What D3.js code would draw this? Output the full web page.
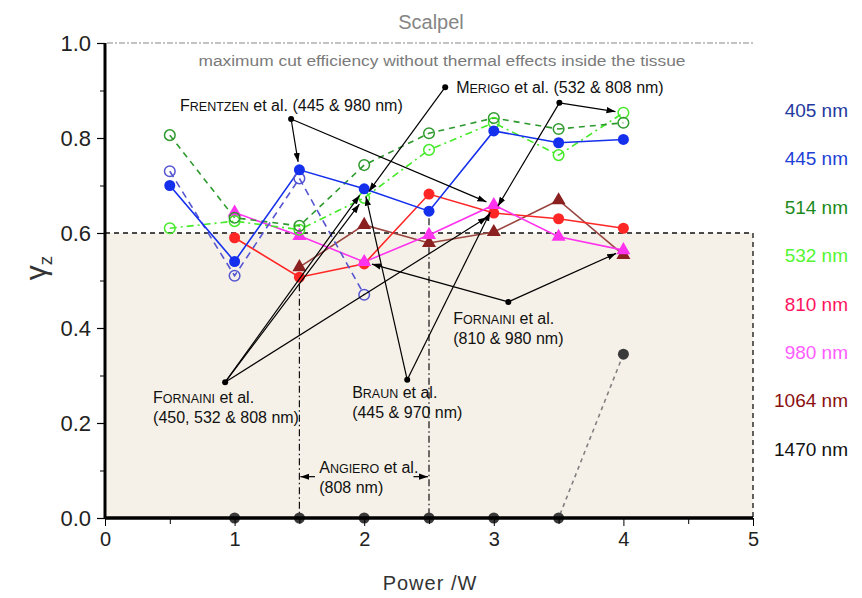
<!DOCTYPE html>
<html><head><meta charset="utf-8">
<script src="https://cdn.jsdelivr.net/npm/d3@7"></script>
<style>body{margin:0;background:#fff}svg{font-family:Arial,"Liberation Sans",sans-serif}</style>
</head><body><svg id="c" width="862" height="598"></svg>
<script>
// ---- data ----
const powers = [0.5, 1, 1.5, 2, 2.5, 3, 3.5, 4];
const s405  = [0.73, 0.51, 0.715, 0.47, null, null, null, null];
const s445  = [0.70, 0.54, 0.733, 0.693, 0.646, 0.815, 0.79, 0.797];
const s514  = [0.806, 0.632, 0.615, 0.743, 0.81, 0.842, 0.819, 0.832];
const s532  = [0.61, 0.625, 0.607, 0.674, 0.775, 0.832, 0.764, 0.853];
const s810  = [null, 0.59, 0.507, 0.535, 0.682, 0.642, 0.63, 0.61];
const s980  = [null, 0.643, 0.594, 0.539, 0.596, 0.659, 0.592, 0.564];
const s1064 = [null, null, 0.528, 0.617, 0.579, 0.602, 0.669, 0.554];
const s1470 = [null, 0, 0, 0, 0, 0, 0, 0.345];
const legendLabels = ["405 nm","445 nm","514 nm","532 nm","810 nm","980 nm","1064 nm","1470 nm"];
const yTicks = [0, 0.2, 0.4, 0.6, 0.8, 1.0];
const xTicks = [0, 1, 2, 3, 4, 5];
const threshold = 0.6;

// ---- layout ----
const svg = d3.select("#c");
const x = d3.scaleLinear().domain([0,5]).range([105,753]);
const y = d3.scaleLinear().domain([0,1]).range([518,43]);

const styles = {
  "405 nm": {color:"#5656d2", legend:"#24399e", marker:"open", dash:"7,5"},
  "445 nm": {color:"#1530ec", legend:"#1d3fd6", marker:"filled", dash:null},
  "514 nm": {color:"#2e9a2e", legend:"#1c8a1c", marker:"open", dash:"6,5"},
  "532 nm": {color:"#46ea2a", legend:"#55f533", marker:"open", dash:"7,4,2,4"},
  "810 nm": {color:"#ff2626", legend:"#ff1460", marker:"filled", dash:null},
  "980 nm": {color:"#ff33ee", legend:"#ff5cff", marker:"tri", dash:null},
  "1064 nm":{color:"#9a4540", legend:"#8a1010", marker:"tri", dash:null, mcolor:"#8a2020"},
  "1470 nm":{color:"#808080", legend:"#111", marker:"filled", dash:"4,4", mcolor:"#3a3a3a"}
};
const allSeries = [s405,s445,s514,s532,s810,s980,s1064,s1470];

// background threshold region
svg.append("rect").attr("x",x(0)).attr("y",y(threshold)).attr("width",x(5)-x(0)).attr("height",y(0)-y(threshold)).attr("fill","#f6f1e8");
svg.append("path").attr("d",`M${x(0)},${y(threshold)}H${x(5)}V${y(0)}`).attr("fill","none").attr("stroke","#111").attr("stroke-width",1.3).attr("stroke-dasharray","5,4");
// scalpel line
svg.append("line").attr("x1",x(0)+2).attr("x2",x(5)).attr("y1",y(1)).attr("y2",y(1)).attr("stroke","#888").attr("stroke-width",1.2).attr("stroke-dasharray","6,2,2,2");
svg.append("text").attr("x",431).attr("y",29).attr("text-anchor","middle").attr("font-size",20).attr("fill","#858585").text("Scalpel");
svg.append("text").attr("x",442).attr("y",66).attr("text-anchor","middle").attr("font-size",14).attr("fill","#7a7a7a").attr("textLength",487).attr("lengthAdjust","spacingAndGlyphs").text("maximum cut efficiency without thermal effects inside the tissue");

// Angiero vertical dash-dot lines
[[1.5, s810[2]],[2.5, s445[4]]].forEach(([p,v])=>{
  svg.append("line").attr("x1",x(p)).attr("x2",x(p)).attr("y1",y(v)+7).attr("y2",y(0)).attr("stroke","#111").attr("stroke-width",1.2).attr("stroke-dasharray","7,3,1.5,3");
});

// ---- series ----
const drawOrder = [7,6,4,5,3,2,0,1];
const line = d3.line().defined(d=>d.v!=null).x(d=>x(d.p)).y(d=>y(d.v));
drawOrder.forEach(i=>{
  const st = styles[legendLabels[i]];
  const pts = powers.map((p,j)=>({p, v:allSeries[i][j]}));
  svg.append("path").datum(pts).attr("d",line).attr("fill","none").attr("stroke",st.color).attr("stroke-width",1.6)
    .attr("stroke-dasharray",st.dash);
});
drawOrder.forEach(i=>{
  const st = styles[legendLabels[i]];
  const pts = powers.map((p,j)=>({p, v:allSeries[i][j]})).filter(d=>d.v!=null);
  const mc = st.mcolor || st.color;
  const g = svg.append("g");
  if (st.marker==="filled") {
    g.selectAll("circle").data(pts).join("circle").attr("cx",d=>x(d.p)).attr("cy",d=>y(d.v)).attr("r",5.5).attr("fill",mc);
  } else if (st.marker==="open") {
    g.selectAll("circle").data(pts).join("circle").attr("cx",d=>x(d.p)).attr("cy",d=>y(d.v)).attr("r",5.3).attr("fill","none").attr("stroke",mc).attr("stroke-width",1.5);
  } else {
    g.selectAll("path").data(pts).join("path").attr("d",d3.symbol(d3.symbolTriangle,85)).attr("transform",d=>`translate(${x(d.p)},${y(d.v)})`).attr("fill",mc);
  }
});

// axes (drawn over the marks)
const yAxis = d3.axisLeft(y).tickValues(yTicks).tickFormat(d3.format(".1f")).tickSize(8);
const gy = svg.append("g").attr("transform",`translate(${x(0)},0)`).call(yAxis);
gy.select(".domain").attr("stroke-width",3).attr("d",`M0,${y(1)}V${y(0)}`);
gy.selectAll(".tick line").attr("stroke-width",1.2);
gy.selectAll(".tick text").attr("font-size",22).attr("fill","#222").attr("x",-14).attr("font-family","Arial,'Liberation Sans',sans-serif");
svg.append("g").attr("transform",`translate(${x(0)},0)`).call(d3.axisLeft(y).tickValues([0.1,0.3,0.5,0.7,0.9]).tickSize(5).tickFormat(""))
  .call(g=>g.select(".domain").remove());

const xAxis = d3.axisBottom(x).tickValues(xTicks).tickFormat(d3.format("d")).tickSize(8);
const gx = svg.append("g").attr("transform",`translate(0,${y(0)})`).call(xAxis);
gx.select(".domain").attr("stroke-width",3.5).attr("d",`M${x(0)},0H${x(5)}`);
gx.selectAll(".tick text").attr("font-size",20).attr("fill","#222").attr("y",14).attr("font-family","Arial,'Liberation Sans',sans-serif");
svg.append("g").attr("transform",`translate(0,${y(0)})`).call(d3.axisBottom(x).tickValues([0.5,1.5,2.5,3.5,4.5]).tickSize(6).tickFormat(""))
  .call(g=>g.select(".domain").remove());

svg.append("text").attr("x",430).attr("y",590).attr("text-anchor","middle").attr("font-size",20).attr("fill","#333").attr("letter-spacing",1).text("Power /W");
const yl = svg.append("text").attr("transform","translate(46,268) rotate(-90)").attr("text-anchor","middle").attr("fill","#333");
yl.append("tspan").attr("font-size",30).text("γ");
yl.append("tspan").attr("font-size",19).attr("dy",6).text("z");

// ---- legend ----
legendLabels.forEach((l,i)=>{
  svg.append("text").attr("x",848).attr("y",117+i*48.4).attr("text-anchor","end").attr("font-size",19).attr("fill",styles[l].legend).text(l);
});

// ---- annotations ----
const defs = svg.append("defs");
defs.append("marker").attr("id","ah").attr("viewBox","0 0 10 10").attr("refX",10).attr("refY",5)
  .attr("markerWidth",9).attr("markerHeight",9).attr("markerUnits","userSpaceOnUse").attr("orient","auto")
  .append("path").attr("d","M0,1.5L10,5L0,8.5z").attr("fill","#000");
const ser = l=>allSeries[legendLabels.indexOf(l)];
const pt = (l,p)=>[p, ser(l)[powers.indexOf(p)]];
const notes = [
  {name:"Frentzen", rest:" et al. (445 & 980 nm)", line2:null, text:[0.579,0.857], dot:[1.436,0.84], targets:[pt("445 nm",1.5), pt("980 nm",3)]},
  {name:"Merigo", rest:" et al. (532 & 808 nm)", line2:null, text:[2.71,0.895], dot:[2.625,0.907], targets:[pt("532 nm",2)]},
  {name:null, dot:[3.506,0.874], targets:[pt("532 nm",4), pt("810 nm",3)]},
  {name:"Fornaini", rest:" et al.", line2:"(450, 532 & 808 nm)", text:[0.371,0.243], dot:[0.927,0.286], targets:[pt("445 nm",2), pt("532 nm",2), pt("810 nm",3)]},
  {name:"Braun", rest:" et al.", line2:"(445 & 970 nm)", text:[1.907,0.253], dot:[2.332,0.291], targets:[pt("445 nm",2), pt("980 nm",3)]},
  {name:"Fornaini", rest:" et al.", line2:"(810 & 980 nm)", text:[2.687,0.408], dot:[3.112,0.455], targets:[pt("980 nm",2), pt("980 nm",4)]},
  {name:"Angiero", rest:" et al.", line2:"(808 nm)", text:[1.653,0.095], dot:null, targets:[]}
];
notes.forEach(n=>{
  if (n.dot) {
    const [dx,dy] = [x(n.dot[0]), y(n.dot[1])];
    n.targets.forEach(t=>{
      const tx = x(t[0]), ty = y(t[1]);
      const L = Math.hypot(tx-dx, ty-dy), k = (L-8)/L;
      svg.append("line").attr("x1",dx).attr("y1",dy).attr("x2",dx+(tx-dx)*k).attr("y2",dy+(ty-dy)*k)
        .attr("stroke","#000").attr("stroke-width",1.2).attr("marker-end","url(#ah)");
    });
    svg.append("circle").attr("cx",dx).attr("cy",dy).attr("r",3).attr("fill","#000");
  }
  if (n.name) {
    const t = svg.append("text").attr("x",x(n.text[0])).attr("y",y(n.text[1])).attr("font-size",16).attr("fill","#111");
    t.append("tspan").text(n.name[0]);
    t.append("tspan").attr("font-size",12.5).text(n.name.slice(1).toUpperCase());
    t.append("tspan").text(n.rest);
    if (n.line2) svg.append("text").attr("x",x(n.text[0])).attr("y",y(n.text[1])+20).attr("font-size",16).attr("fill","#111").text(n.line2);
  }
});
// Angiero span arrows
const ay = y(0.087);
svg.append("line").attr("x1",x(1.62)).attr("x2",x(1.5)+1).attr("y1",ay).attr("y2",ay).attr("stroke","#000").attr("stroke-width",1.2).attr("marker-end","url(#ah)");
svg.append("line").attr("x1",x(2.38)).attr("x2",x(2.5)-1).attr("y1",ay).attr("y2",ay).attr("stroke","#000").attr("stroke-width",1.2).attr("marker-end","url(#ah)");
</script></body></html>
